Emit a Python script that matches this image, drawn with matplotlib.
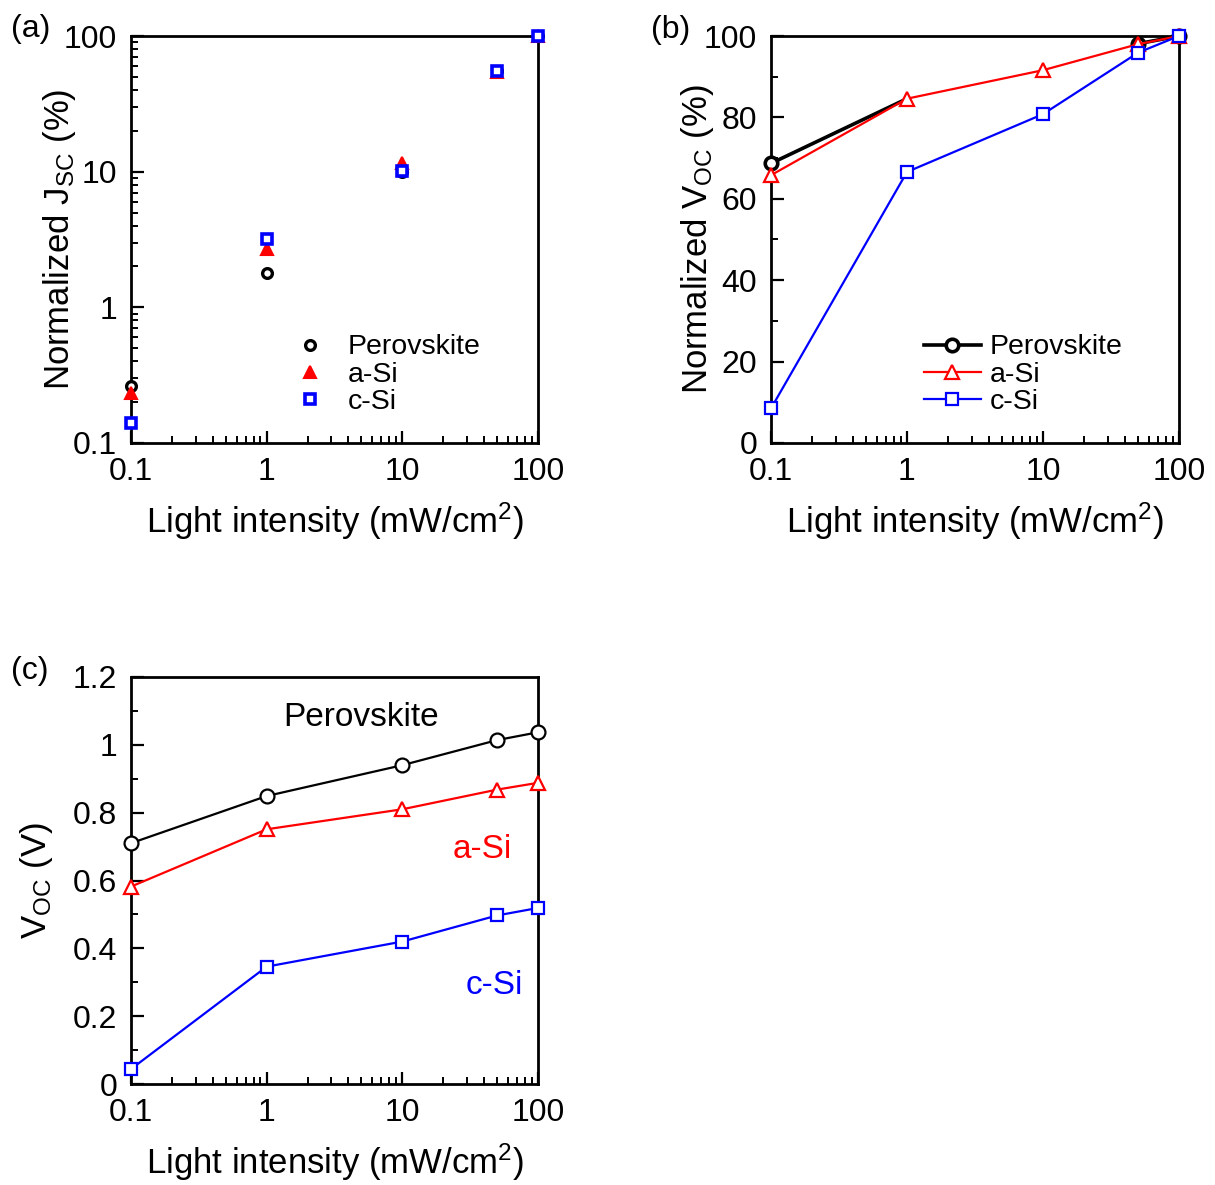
import matplotlib
matplotlib.use('Agg')
import numpy as np
import matplotlib.pyplot as plt
from matplotlib.ticker import FixedLocator, MultipleLocator, LogLocator, NullFormatter

plt.rcParams['font.family'] = ['Liberation Sans', 'DejaVu Sans']
plt.rcParams['mathtext.fontset'] = 'custom'
plt.rcParams['mathtext.rm'] = 'Liberation Sans'
plt.rcParams['mathtext.default'] = 'regular'

# light intensity (mW/cm2)
intensity = [0.1, 1, 10, 50, 100]

# (a) normalized Jsc (%)
jsc_perov = [0.264, 1.79, 10.0, 55.0, 100]
jsc_asi = [0.233, 2.71, 11.5, 54.3, 100]
jsc_csi = [0.141, 3.19, 10.1, 55.6, 100]

# (b) normalized Voc (%); perovskite point at 10 sits under the a-Si trace
nvoc_perov = [68.7, 84.6, np.nan, 98.1, 100]
nvoc_asi = [65.8, 84.6, 91.6, 98.0, 100]
nvoc_csi = [8.5, 66.6, 80.8, 95.9, 100]

# (c) Voc (V)
voc_perov = [0.710, 0.849, 0.940, 1.014, 1.037]
voc_asi = [0.582, 0.751, 0.810, 0.868, 0.888]
voc_csi = [0.044, 0.346, 0.420, 0.497, 0.519]

x_ticks = [0.1, 1, 10, 100]
x_ticklabels = ['0.1', '1', '10', '100']
x_label = 'Light intensity (mW/cm$^2$)'

FS_TICK = 23
FS_LABEL = 25
FS_LEG = 20.5

W, H = 1215, 1185
fig = plt.figure(figsize=(W / 100, H / 100), dpi=100)


def px_axes(left, top, right, bottom):
    return fig.add_axes([left / W, 1 - bottom / H, (right - left) / W, (bottom - top) / H])


def style_axes(ax):
    for sp in ax.spines.values():
        sp.set_linewidth(2.0)
    ax.tick_params(which='both', direction='in', top=False, right=False,
                   labelsize=FS_TICK, pad=10)
    ax.tick_params(which='major', length=9, width=1.6)
    ax.tick_params(which='minor', length=5, width=1.4)
    ax.set_xscale('log')
    ax.set_xlim(0.1, 100)
    ax.xaxis.set_major_locator(FixedLocator(x_ticks))
    ax.set_xticklabels(x_ticklabels)
    ax.xaxis.set_minor_locator(LogLocator(base=10, subs=range(2, 10)))
    ax.xaxis.set_minor_formatter(NullFormatter())
    ax.set_xlabel(x_label, fontsize=FS_LABEL, va='center')
    ax.xaxis.set_label_coords(0.5, -0.192)


def set_ylab(ax, text, xpos):
    ax.set_ylabel(text, fontsize=FS_LABEL, va='center')
    ax.yaxis.set_label_coords(xpos, 0.5)


# ---- (a) normalized Jsc ----
ax1 = px_axes(131, 36, 538, 443)
style_axes(ax1)
ax1.set_yscale('log')
ax1.set_ylim(0.1, 100)
ax1.yaxis.set_major_locator(FixedLocator([0.1, 1, 10, 100]))
ax1.set_yticklabels(['0.1', '1', '10', '100'])
ax1.yaxis.set_minor_locator(LogLocator(base=10, subs=range(2, 10)))
ax1.yaxis.set_minor_formatter(NullFormatter())
ax1.plot(intensity, jsc_perov, 'o', ms=7, mfc='white', mec='black', mew=2.4,
         label='Perovskite', clip_on=False, zorder=3)
ax1.plot(intensity, jsc_asi, '^', ms=8, mfc='red', mec='red', mew=1.5,
         label='a-Si', clip_on=False, zorder=4)
ax1.plot(intensity, jsc_csi, 's', ms=6.5, mfc='white', mec='blue', mew=2.6,
         label='c-Si', clip_on=False, zorder=5)
set_ylab(ax1, 'Normalized J$_{SC}$ (%)', -0.175)
ax1.legend(loc='lower left', bbox_to_anchor=(0.362, 0.04), frameon=False,
           fontsize=FS_LEG, handlelength=1.4, handletextpad=0.63, labelspacing=0.05,
           borderaxespad=0)

# ---- (b) normalized Voc ----
ax2 = px_axes(771, 36, 1179, 443)
style_axes(ax2)
ax2.set_ylim(0, 100)
ax2.yaxis.set_major_locator(MultipleLocator(20))
ax2.yaxis.set_minor_locator(MultipleLocator(10))
ax2.plot(intensity, nvoc_perov, '-o', color='black', lw=2.6, ms=9, mfc='white',
         mew=2.6, markevery=[0, 3, 4], label='Perovskite', clip_on=False, zorder=3)
ax2.plot(intensity, nvoc_asi, '-^', color='red', lw=1.6, ms=10, mfc='white',
         mew=1.6, label='a-Si', clip_on=False, zorder=4)
ax2.plot(intensity, nvoc_csi, '-s', color='blue', lw=1.6, ms=9, mfc='white',
         mew=1.6, label='c-Si', clip_on=False, zorder=5)
set_ylab(ax2, 'Normalized V$_{OC}$ (%)', -0.18)
ax2.legend(loc='lower left', bbox_to_anchor=(0.346, 0.04), frameon=False,
           fontsize=FS_LEG, handlelength=2.0, handletextpad=0.32, labelspacing=0.05,
           borderaxespad=0)

# ---- (c) absolute Voc ----
ax3 = px_axes(131, 677, 538, 1084)
style_axes(ax3)
ax3.set_ylim(0, 1.2)
ax3.set_yticks([0, 0.2, 0.4, 0.6, 0.8, 1.0, 1.2])
ax3.set_yticklabels(['0', '0.2', '0.4', '0.6', '0.8', '1', '1.2'])
ax3.yaxis.set_minor_locator(MultipleLocator(0.1))
ax3.plot(intensity, voc_perov, '-o', color='black', lw=1.6, ms=10, mfc='white',
         mew=1.6, clip_on=False, zorder=3)
ax3.plot(intensity, voc_asi, '-^', color='red', lw=1.6, ms=10, mfc='white',
         mew=1.6, clip_on=False, zorder=4)
ax3.plot(intensity, voc_csi, '-s', color='blue', lw=1.6, ms=9, mfc='white',
         mew=1.6, clip_on=False, zorder=5)
set_ylab(ax3, 'V$_{OC}$ (V)', -0.232)
ax3.text(5.0, 1.082, 'Perovskite', color='black', fontsize=24, ha='center', va='center')
ax3.text(39, 0.69, 'a-Si', color='red', fontsize=24, ha='center', va='center')
ax3.text(48, 0.29, 'c-Si', color='blue', fontsize=24, ha='center', va='center')

# panel letters
fig.text(11 / W, 1 - 29 / H, '(a)', fontsize=23, va='center', ha='left')
fig.text(651 / W, 1 - 30 / H, '(b)', fontsize=23, va='center', ha='left')
fig.text(11 / W, 1 - 671 / H, '(c)', fontsize=23, va='center', ha='left')

fig.savefig('out.png', dpi=100)
